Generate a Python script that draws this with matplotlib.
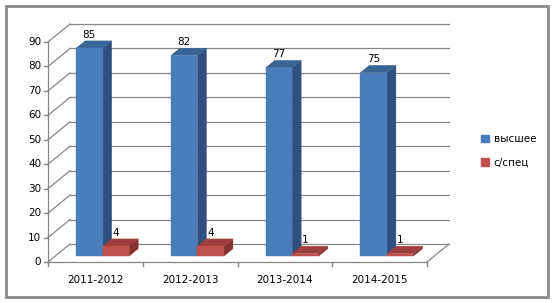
import matplotlib
matplotlib.use("Agg")
import matplotlib.pyplot as plt
from matplotlib.patches import Polygon, Rectangle, Patch
from matplotlib.lines import Line2D

categories = ["2011-2012", "2012-2013", "2013-2014", "2014-2015"]
series_names = ["высшее", "с/спец"]
higher = [85, 82, 77, 75]
special = [4, 4, 1, 1]
yticks = [0, 10, 20, 30, 40, 50, 60, 70, 80, 90]

W, H = 553, 303
fig = plt.figure(figsize=(W / 100, H / 100), dpi=100)
fig.patch.set_facecolor("white")

# outer frame
fig.patches.append(Rectangle((6 / W, 6 / H), 542 / W, 291 / H, transform=fig.transFigure,
                             fill=False, edgecolor="#8c8c8c", linewidth=2))

ax = fig.add_axes([48 / W, 41 / H, 379 / W, 220 / H])
ax.set_xlim(0, len(categories))
ax.set_ylim(0, 90)
ax.axis("off")

DX = 22 / 379 * len(categories)   # depth shift in x data units
DY = 18 / 220 * 90                # depth shift in value units
GRID = "#868686"
FS = 7.5


def P(x, y, d):
    return (x + d * DX, y + d * DY)


# side wall diagonals, back wall gridlines, ticks
for v in yticks:
    ax.add_line(Line2D([0, DX], [v, v + DY], color=GRID, lw=0.9, clip_on=False, zorder=1))
    ax.add_line(Line2D([DX, len(categories) + DX], [v + DY, v + DY], color=GRID, lw=0.9,
                       clip_on=False, zorder=1))
    ax.add_line(Line2D([-0.04, 0], [v, v], color=GRID, lw=1.0, clip_on=False, zorder=1))
    ax.text(-0.07, v, str(v), ha="right", va="center", fontsize=FS, color="black")

# front axes lines
ax.add_line(Line2D([0, 0], [0, 90], color=GRID, lw=0.9, clip_on=False, zorder=1))
ax.add_line(Line2D([0, len(categories)], [0, 0], color=GRID, lw=0.9, clip_on=False, zorder=1))
ax.add_line(Line2D([len(categories), len(categories) + DX], [0, DY], color=GRID, lw=0.9,
                   clip_on=False, zorder=1))
for i in range(len(categories) + 1):
    ax.add_line(Line2D([i, i], [0, -1.8], color=GRID, lw=1.0, clip_on=False, zorder=1))
for i, c in enumerate(categories):
    ax.text(i + 0.5, -7.2, c, ha="center", va="center", fontsize=FS, color="black")

BW = 0.28
D0, D1 = 0.33, 0.74
colors = {
    0: ("#4a7ebb", "#3a6496", "#2f5080"),
    1: ("#c0504d", "#9c3f3c", "#86332f"),
}


def bar3d(x0, x1, h, cols, z):
    front, top, side = cols
    fpts = [P(x0, 0, D0), P(x1, 0, D0), P(x1, h, D0), P(x0, h, D0)]
    tpts = [P(x0, h, D0), P(x1, h, D0), P(x1, h, D1), P(x0, h, D1)]
    spts = [P(x1, 0, D0), P(x1, 0, D1), P(x1, h, D1), P(x1, h, D0)]
    for pts, c in ((spts, side), (tpts, top), (fpts, front)):
        ax.add_patch(Polygon(pts, closed=True, facecolor=c, edgecolor=c, lw=0.3,
                             clip_on=False, zorder=z))


for i in range(len(categories)):
    c = i + 0.5
    for k, vals in enumerate((higher, special)):
        x0 = c - BW + k * BW
        x1 = x0 + BW
        bar3d(x0, x1, vals[i], colors[k], 3 + k)
        lx, _ = P((x0 + x1) / 2, 0, D0)
        _, ly = P(0, vals[i], D1)
        ax.text(lx, ly + 0.4, str(vals[i]), ha="center", va="bottom", fontsize=FS,
                color="black", zorder=10)

handles = [Patch(facecolor=colors[0][0], edgecolor=colors[0][0]),
           Patch(facecolor=colors[1][0], edgecolor=colors[1][0])]
fig.legend(handles, series_names, loc="center left", bbox_to_anchor=(474 / W, 1 - 151 / H),
           frameon=False, fontsize=FS, handlelength=0.7, handleheight=0.7,
           handletextpad=0.5, labelspacing=1.3, borderpad=0.2)

fig.savefig("out.png", dpi=100)
